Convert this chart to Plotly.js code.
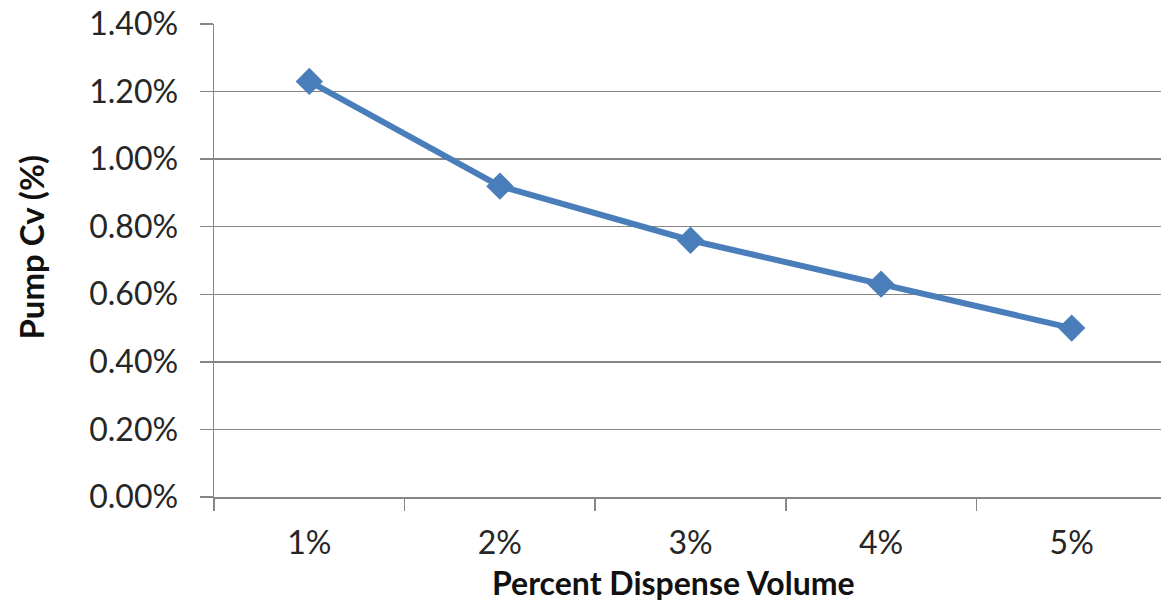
<!DOCTYPE html>
<html>
<head>
<meta charset="utf-8">
<script src="https://cdn.plot.ly/plotly-3.0.1.min.js"></script>
<style>html,body{margin:0;padding:0;background:#fff;overflow:hidden}</style>
</head>
<body>
<div id="chart" style="width:1161px;height:603px"></div>
<script>
const categories = ['1%', '2%', '3%', '4%', '5%'];
const pumpCv = [0.0123, 0.0092, 0.0076, 0.0063, 0.0050];
const yTickVals = [0, 0.002, 0.004, 0.006, 0.008, 0.010, 0.012, 0.014];
const xTitle = 'Percent Dispense Volume';
const yTitle = 'Pump Cv (%)';

const FONT = 'Lato, "Open Sans", sans-serif';

const trace = {
  type: 'scatter',
  mode: 'lines+markers',
  x: categories,
  y: pumpCv,
  line: {color: '#4a7ebb', width: 6},
  marker: {symbol: 'diamond', size: 21, color: '#4a7ebb'},
  hoverinfo: 'x+y'
};

const layout = {
  width: 1161,
  height: 603,
  margin: {l: 214, r: 0, t: 24, b: 106, pad: 0},
  paper_bgcolor: '#ffffff',
  plot_bgcolor: '#ffffff',
  showlegend: false,
  font: {family: FONT, color: '#1a1a1a'},
  xaxis: {
    type: 'category',
    range: [-0.5, 4.4685],
    tickson: 'boundaries',
    ticks: 'outside',
    ticklen: 12,
    tickwidth: 1.5,
    tickcolor: '#868686',
    showline: true,
    linecolor: '#868686',
    linewidth: 1.5,
    showgrid: false,
    zeroline: false,
    tickfont: {family: FONT, size: 32, color: '#262626'},
    ticklabelstandoff: 17
  },
  yaxis: {
    range: [0, 0.014],
    tickvals: yTickVals,
    tickformat: '.2%',
    ticks: 'outside',
    ticklen: 13,
    tickwidth: 1.5,
    tickcolor: '#868686',
    showline: true,
    linecolor: '#868686',
    linewidth: 1.5,
    showgrid: true,
    gridcolor: '#868686',
    gridwidth: 1.5,
    zeroline: false,
    tickfont: {family: FONT, size: 32, color: '#262626'},
    ticklabelstandoff: 15
  },
  annotations: [
    {
      text: xTitle, showarrow: false,
      xref: 'paper', yref: 'paper', x: 0.5, y: 0,
      xanchor: 'center', yanchor: 'middle', xshift: -14, yshift: -85,
      borderpad: 0,
      font: {family: FONT, size: 32, color: '#111', weight: 'bold'}
    },
    {
      text: yTitle, showarrow: false, textangle: -90,
      xref: 'paper', yref: 'paper', x: 0, y: 0.5,
      xanchor: 'center', yanchor: 'middle', xshift: -184, yshift: 13,
      borderpad: 0,
      font: {family: FONT, size: 33, color: '#111', weight: 'bold'}
    }
  ]
};

Plotly.newPlot('chart', [trace], layout, {displayModeBar: false, staticPlot: true});
</script>
</body>
</html>
